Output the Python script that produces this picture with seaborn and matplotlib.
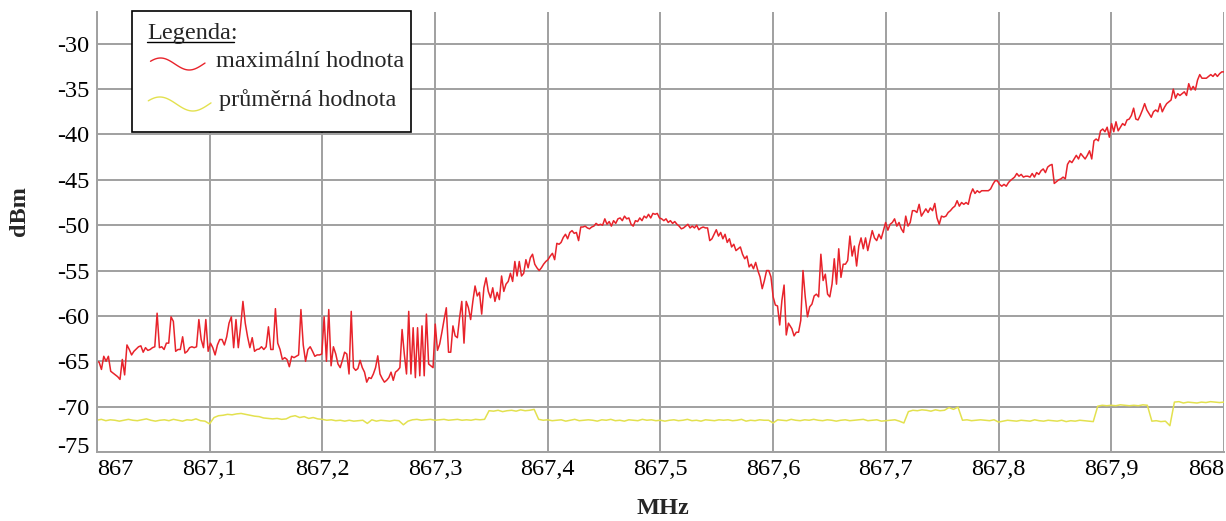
import numpy as np
import pandas as pd
import matplotlib
matplotlib.use("Agg")
import matplotlib.pyplot as plt
import matplotlib.transforms as mtransforms
from matplotlib.lines import Line2D
from matplotlib.patches import Rectangle
import seaborn as sns

# ---------------- data ----------------
x_ticks = [867.0, 867.1, 867.2, 867.3, 867.4, 867.5, 867.6, 867.7, 867.8, 867.9, 868.0]
x_tick_labels = ["867", "867,1", "867,2", "867,3", "867,4", "867,5",
                 "867,6", "867,7", "867,8", "867,9", "868"]
y_ticks = [-75, -70, -65, -60, -55, -50, -45, -40, -35, -30]
y_tick_labels = ["-75", "-70", "-65", "-60", "-55", "-50", "-45", "-40", "-35", "-30"]

series_names = ["maximální hodnota", "průměrná hodnota"]
legend_title = "Legenda:"

# maximum trace, in pieces with their frequency spans (MHz)
red_bounds = [(867.0, 867.2099), (867.2120, 867.4101), (867.4119, 867.6136),
              (867.6166, 867.8088), (867.8103, 868.0)]
red_seg1 = [-65.0, -65.1, -65.9, -64.45, -65.0, -64.45, -66.1, -66.3, -66.5, -66.7,
            -67.0, -64.8, -66.5, -63.2, -63.7, -64.3, -63.9, -63.65, -63.4, -63.3,
            -64.0, -63.5, -63.8, -63.7, -63.5, -63.4, -59.7, -63.5, -63.4, -63.7,
            -63.0, -63.0, -60.1, -60.6, -63.9, -63.7, -63.7, -62.3, -64.1, -63.9,
            -63.5, -63.4, -63.5, -63.4, -60.4, -62.6, -63.5, -60.4, -63.9, -63.0,
            -63.5, -64.3, -63.2, -62.6, -62.6, -63.2, -62.3, -60.8, -60.1, -63.5,
            -60.4, -63.5, -61.2, -58.4, -60.8, -62.3, -63.5, -62.4, -63.9, -63.7,
            -63.65, -63.4, -63.7, -63.4, -61.2, -63.7, -63.7, -59.2, -63.0, -63.7,
            -64.8, -64.6, -64.8, -65.6, -64.45, -64.6, -64.45, -64.3, -59.3, -63.2,
            -65.0, -63.7, -63.4, -63.9, -64.45, -64.3, -64.3, -64.2, -60.1, -65.0,
            -59.3, -65.5, -63.4]
red_seg2 = [-64.2, -65.3, -65.7, -64.9, -64.0, -64.2, -66.4, -59.5, -65.7, -66.0,
            -65.8, -64.9, -65.7, -66.2, -67.3, -66.8, -66.9, -66.4, -65.7, -64.4,
            -66.4, -66.9, -67.3, -67.1, -66.8, -66.2, -67.1, -66.2, -66.0, -65.7,
            -61.5, -64.2, -66.4, -59.5, -66.4, -61.3, -66.8, -61.3, -66.6, -61.1,
            -66.6, -59.8, -65.3, -65.5, -65.7, -60.9, -63.8, -63.1, -61.8, -60.4,
            -59.1, -64.0, -64.0, -61.1, -62.2, -62.4, -60.2, -58.4, -63.0, -58.4,
            -59.1, -60.4, -58.4, -56.7, -57.8, -57.4, -59.8, -56.9, -55.8, -57.3,
            -58.0, -56.9, -58.4, -57.4, -58.2, -55.6, -57.3, -56.5, -56.2, -55.3,
            -56.2, -54.0, -55.6, -54.0, -55.6, -55.3, -53.8, -54.7, -53.6, -53.2,
            -54.3, -54.7, -55.0, -54.7, -54.3, -54.0, -53.8, -53.4, -53.1, -53.8,
            -52.0, -52.1]
red_seg3 = [-51.9, -51.35, -51.0, -51.5, -50.8, -50.6, -50.9, -50.8, -51.7, -50.2,
            -50.2, -50.1, -50.3, -50.4, -50.2, -50.1, -49.8, -50.0, -49.9, -50.0,
            -49.3, -49.9, -49.6, -50.1, -49.5, -49.8, -49.3, -49.2, -49.5, -49.0,
            -49.3, -49.2, -49.9, -50.1, -49.5, -49.6, -49.2, -49.5, -49.0, -49.2,
            -48.8, -49.2, -48.7, -48.8, -48.7, -49.2, -49.3, -49.5, -49.3, -49.7,
            -49.5, -49.8, -49.6, -49.9, -50.1, -50.4, -50.3, -50.1, -49.9, -50.3,
            -50.1, -50.3, -50.0, -50.5, -50.3, -50.2, -50.3, -50.3, -51.7, -51.5,
            -51.0, -50.5, -51.2, -50.8, -51.5, -51.0, -51.9, -51.5, -52.4, -52.1,
            -52.8, -52.6, -52.4, -53.2, -53.7, -53.4, -54.6, -54.3, -54.8, -54.1,
            -55.0, -55.7, -57.0, -56.1, -55.0, -55.0, -55.7, -57.9, -58.8, -58.9,
            -61.0, -58.3, -56.6, -62.1, -60.8]
red_seg4 = [-61.4, -62.2, -61.8, -61.8, -60.5, -55.0, -57.9, -60.1, -59.0, -58.7,
            -57.8, -57.6, -57.9, -53.2, -56.1, -55.4, -57.6, -57.9, -56.5, -53.7,
            -56.5, -52.6, -55.75, -54.3, -54.3, -53.9, -51.2, -53.4, -52.3, -54.5,
            -52.3, -51.4, -52.6, -51.4, -52.8, -51.7, -50.6, -51.4, -51.7, -51.0,
            -51.5, -50.6, -49.7, -50.55, -49.9, -49.7, -49.3, -50.1, -49.7, -50.4,
            -50.8, -49.0, -50.1, -49.7, -48.4, -48.4, -48.6, -47.7, -49.0, -48.6,
            -48.2, -48.6, -48.1, -48.4, -47.6, -49.2, -49.9, -49.0, -49.1, -49.0,
            -48.6, -48.4, -48.1, -47.9, -47.3, -47.9, -47.5, -47.7, -47.5, -47.7,
            -46.6, -46.0, -46.5, -46.2, -46.4, -46.2, -46.2, -46.2, -46.2, -46.0,
            -45.5, -45.1, -45.1, -45.5, -45.7, -45.5, -45.7, -45.3]
red_seg5 = [-45.1, -44.9, -44.7, -44.3, -44.6, -44.4, -44.7, -44.6, -44.6, -44.7,
            -44.3, -44.7, -44.2, -44.4, -44.0, -43.8, -44.2, -43.6, -43.4, -43.3,
            -45.4, -45.2, -45.0, -44.9, -44.7, -44.9, -43.3, -42.9, -43.1, -42.7,
            -42.3, -42.7, -42.1, -42.4, -42.7, -42.3, -41.8, -42.7, -40.7, -40.5,
            -40.7, -39.6, -39.4, -39.7, -39.2, -40.3, -38.8, -39.7, -38.6, -39.6,
            -39.2, -38.8, -39.0, -38.4, -38.3, -37.9, -37.1, -38.3, -38.4, -37.9,
            -37.3, -36.6, -37.3, -37.7, -38.1, -37.5, -37.3, -37.5, -36.6, -37.5,
            -37.0, -36.6, -36.4, -36.2, -35.0, -36.0, -35.5, -35.7, -35.5, -35.3,
            -35.7, -34.4, -35.1, -34.7, -35.1, -34.0, -33.4, -33.8, -33.8, -33.8,
            -33.6, -33.4, -33.6, -33.3, -33.6, -33.3, -33.1, -33.1]

# average trace, one value every 0.004 MHz from 867.000
yellow_start = 867.0
yellow_step = 0.004
yellow_vals = [
    -71.5, -71.4, -71.55, -71.45, -71.5, -71.6, -71.5, -71.4, -71.5, -71.55,
    -71.45, -71.35, -71.5, -71.6, -71.5, -71.45, -71.55, -71.4, -71.5, -71.6,
    -71.45, -71.5, -71.35, -71.55, -71.6, -71.9, -71.2, -71.0, -70.95, -70.85,
    -70.9, -70.8, -70.75, -70.85, -70.95, -71.05, -71.1, -71.25, -71.3, -71.35,
    -71.3, -71.4, -71.35, -71.1, -71.0, -71.2, -71.1, -71.3, -71.2, -71.35,
    -71.4, -71.5, -71.45, -71.55, -71.5, -71.6, -71.5, -71.6, -71.55, -71.5,
    -71.85, -71.45, -71.6, -71.5, -71.55, -71.6, -71.5, -71.55, -72.0, -71.6,
    -71.45, -71.4, -71.5, -71.45, -71.4, -71.5, -71.45, -71.4, -71.5, -71.45,
    -71.4, -71.5, -71.45, -71.5, -71.4, -71.45, -71.4, -70.45, -70.5, -70.4,
    -70.55, -70.45, -70.4, -70.5, -70.35, -70.45, -70.4, -70.3, -71.4, -71.5,
    -71.45, -71.55, -71.5, -71.45, -71.6, -71.5, -71.4, -71.55, -71.5, -71.45,
    -71.5, -71.6, -71.45, -71.5, -71.4, -71.55, -71.5, -71.6, -71.45, -71.5,
    -71.55, -71.4, -71.5, -71.45, -71.55, -71.5, -71.6, -71.5, -71.45, -71.55,
    -71.5, -71.4, -71.55, -71.5, -71.6, -71.45, -71.5, -71.55, -71.45, -71.5,
    -71.45, -71.55, -71.5, -71.4, -71.6, -71.5, -71.55, -71.45, -71.5, -71.5,
    -71.8, -71.45, -71.5, -71.55, -71.4, -71.5, -71.55, -71.45, -71.5, -71.4,
    -71.5, -71.55, -71.45, -71.5, -71.6, -71.5, -71.45, -71.55, -71.5, -71.45,
    -71.4, -71.55, -71.5, -71.45, -71.6, -71.55, -71.5, -71.45, -71.6, -71.8,
    -70.55, -70.4, -70.45, -70.35, -70.4, -70.5, -70.35, -70.45, -70.4, -70.1,
    -70.3, -70.05, -71.5, -71.45, -71.55, -71.5, -71.45, -71.5, -71.55, -71.45,
    -71.7, -71.6, -71.5, -71.55, -71.6, -71.5, -71.55, -71.6, -71.45, -71.55,
    -71.6, -71.5, -71.55, -71.6, -71.5, -71.65, -71.55, -71.6, -71.5, -71.55,
    -71.6, -71.65, -69.95, -69.85, -69.9, -69.85, -69.9, -69.8, -69.85, -69.9,
    -69.85, -69.9, -69.8, -69.85, -71.6, -71.55, -71.65, -71.6, -72.1, -69.5,
    -69.45, -69.6, -69.5, -69.55, -69.6, -69.5, -69.55, -69.45, -69.5, -69.55,
    -69.5,
]

# ---------------- assemble ----------------
red_segments = [red_seg1, red_seg2, red_seg3, red_seg4, red_seg5]
red_f = np.concatenate([np.linspace(a, b, len(s)) for (a, b), s in zip(red_bounds, red_segments)])
red_v = np.concatenate([np.asarray(s, float) for s in red_segments])
yellow_f = yellow_start + yellow_step * np.arange(len(yellow_vals))

df = pd.concat([
    pd.DataFrame({"MHz": red_f, "dBm": red_v, "série": series_names[0]}),
    pd.DataFrame({"MHz": yellow_f, "dBm": yellow_vals, "série": series_names[1]}),
], ignore_index=True)

RED = "#e8232b"
YEL = "#e3e14f"
GRID = "#a0a0a0"
FS = 17.5

sns.set_theme(style="white")
plt.rcParams["font.family"] = ["Liberation Serif", "DejaVu Serif"]
plt.rcParams["axes.unicode_minus"] = False

W, H = 1226, 521
fig = plt.figure(figsize=(W / 100, H / 100), dpi=100)
ax = fig.add_axes([96.8 / W, 1 - 452 / H, (1224 - 96.8) / W, (452 - 12) / H])

sns.lineplot(data=df, x="MHz", y="dBm", hue="série",
             palette={series_names[0]: RED, series_names[1]: YEL},
             estimator=None, sort=False, linewidth=1.1, legend=False, ax=ax)

ax.set_xlim(867.0, 868.0)
ax.set_ylim(-75, -26.5)
ax.set_xticks(x_ticks)
ax.set_xticklabels(x_tick_labels)
ax.set_yticks(y_ticks)
ax.set_yticklabels(y_tick_labels)
ax.tick_params(axis="both", length=0, labelsize=FS, colors="black")
ax.tick_params(axis="x", pad=5)
ax.tick_params(axis="y", pad=5.5)

xl = ax.get_xticklabels()
xl[0].set_ha("left")
xl[-1].set_ha("right")
yl = ax.get_yticklabels()
yl[0].set_transform(yl[0].get_transform() + mtransforms.ScaledTranslation(0, 7 / 100, fig.dpi_scale_trans))

ax.grid(True, color=GRID, linewidth=1.4)
ax.set_axisbelow(True)
for side in ["top", "right"]:
    ax.spines[side].set_visible(False)
for side in ["left", "bottom"]:
    ax.spines[side].set_color(GRID)
    ax.spines[side].set_linewidth(1.4)

ax.set_xlabel("MHz", fontsize=FS, fontweight="bold")
ax.set_ylabel("dBm", fontsize=FS, fontweight="bold")
ax.xaxis.label.set_va("center")
ax.xaxis.set_label_coords(0.502, -(508 - 452) / 440)
ax.yaxis.label.set_va("center")
ax.yaxis.set_label_coords((19 - 96.8) / 1127.2, 1 - (211 - 12) / 440)

# ---------------- legend box (drawn by hand, in figure pixels) ----------------
def fx(px):
    return px / W


def fy(py):
    return 1 - py / H


fig.add_artist(Rectangle((fx(132), fy(131.5)), fx(410.5) - fx(132), fy(10.5) - fy(131.5),
                         transform=fig.transFigure, facecolor="white",
                         edgecolor="black", linewidth=1.2, zorder=10))
fig.text(fx(147.3), fy(39.3), legend_title, fontsize=FS, ha="left", va="baseline", zorder=11)
fig.add_artist(Line2D([fx(147.3), fx(233.5)], [fy(41.8), fy(41.8)], color="black",
                      linewidth=1.0, transform=fig.transFigure, zorder=11))

entries = [
    # colour, wave x-span, wave centre y, wave half-height, text x, text baseline
    (RED, (150.5, 205.0), 64.0, 6.0, 215.5, 66.7),
    (YEL, (148.3, 211.0), 104.0, 7.0, 219.0, 106.0),
]
t = np.linspace(0.15 * np.pi, 2.05 * np.pi, 80)
for (col, (xa, xb), yc, amp, tx, tyb), name in zip(entries, series_names):
    wx = xa + (xb - xa) * (t - t[0]) / (t[-1] - t[0])
    wy = yc - amp * np.sin(t)
    fig.add_artist(Line2D(fx(wx), fy(wy), color=col, linewidth=1.0,
                          transform=fig.transFigure, zorder=11))
    fig.text(fx(tx), fy(tyb), name, fontsize=FS, ha="left", va="baseline", zorder=11)

fig.savefig("out.png", dpi=100, facecolor="white")
